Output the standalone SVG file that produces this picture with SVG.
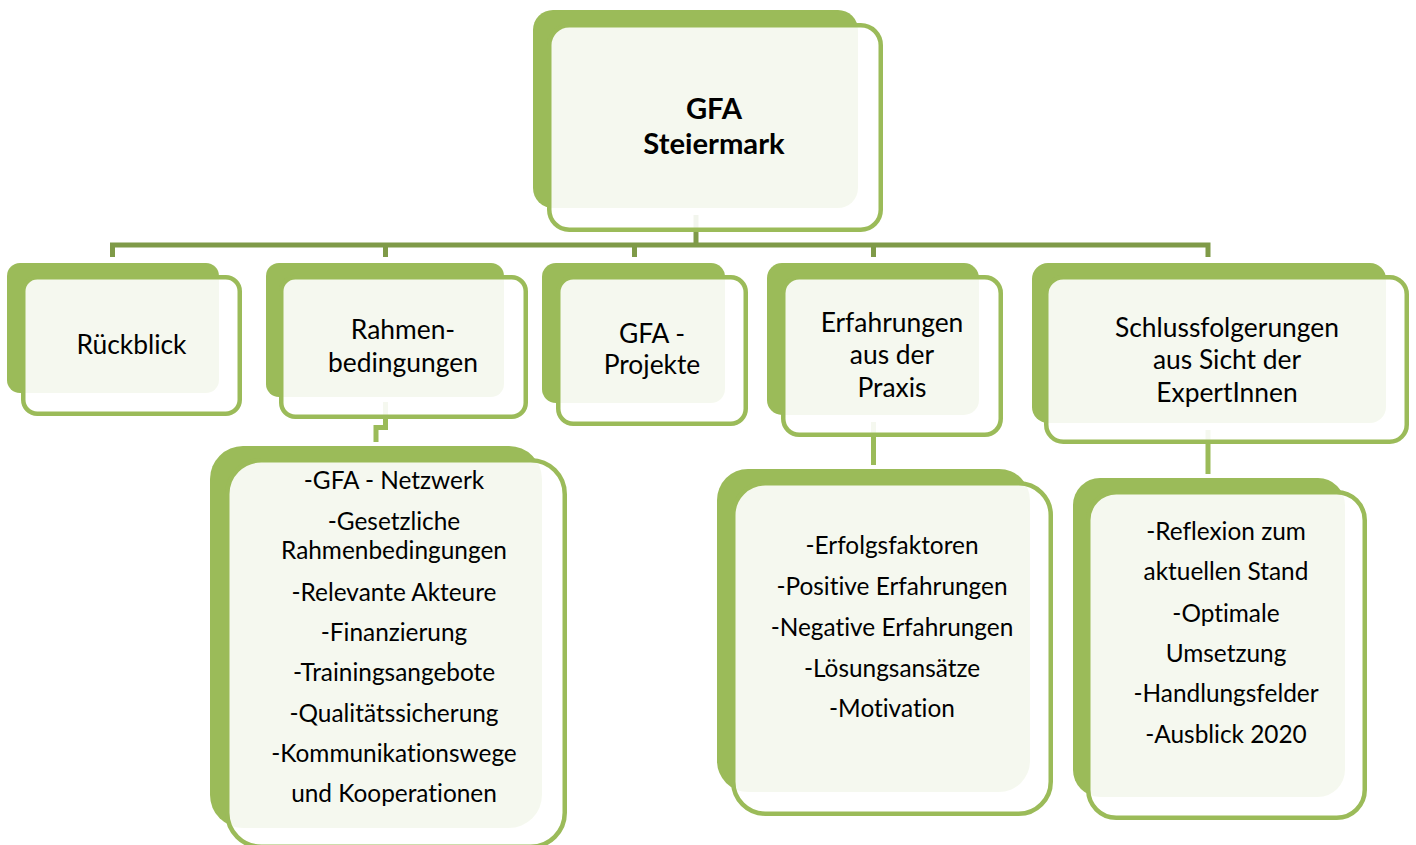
<svg xmlns="http://www.w3.org/2000/svg" width="1416" height="845" viewBox="0 0 1416 845">
<style>
.back{fill:#9BBB59}
.front{fill:#FFFFFF;fill-opacity:0.9;stroke:#9BBB59;stroke-width:4.5}
.bus{fill:none;stroke:#7F9A48;stroke-width:5}
.down{fill:none;stroke:#9BBB59;stroke-width:5}
text{font-family:Lato,"Open Sans","Liberation Sans",sans-serif;fill:#000;text-anchor:middle;font-variant-ligatures:none;font-feature-settings:"liga" 0,"dlig" 0}
.lbl{font-size:26.4px}
.det{font-size:24.4px}
.top{font-size:29.2px;font-weight:bold}
</style>
<rect width="1416" height="845" fill="#FFFFFF"/>
<g id="connectors">
<path class="bus" d="M696 215 V245"/>
<path class="bus" d="M112.5 257 V245 H1208 V257"/>
<path class="bus" d="M385.5 245 V257"/>
<path class="bus" d="M634.5 245 V257"/>
<path class="bus" d="M873.5 245 V257"/>
<path class="down" d="M385.5 402 V427.5 H376 V442"/>
<path class="down" d="M873.5 422 V465"/>
<path class="down" d="M1208 430 V474"/>
</g>
<g id="gfa-steiermark">
<rect class="back" x="533" y="10" width="325" height="198" rx="20"/>
<rect class="front" x="549.25" y="25.25" width="331.5" height="204.5" rx="20"/>
<text class="top" x="714" y="119">GFA</text>
<text class="top" x="714" y="154">Steiermark</text>
</g>
<g id="rueckblick">
<rect class="back" x="7" y="263" width="212" height="130" rx="13"/>
<rect class="front" x="23.25" y="277.25" width="216.5" height="136.5" rx="14"/>
<text class="lbl" x="131.5" y="354">Rückblick</text>
</g>
<g id="rahmenbedingungen">
<rect class="back" x="266" y="263" width="238" height="134" rx="13"/>
<rect class="front" x="281.25" y="277.25" width="244.5" height="139.5" rx="14"/>
<text class="lbl" x="403" y="339">Rahmen-</text>
<text class="lbl" x="403" y="372">bedingungen</text>
</g>
<g id="gfa-projekte">
<rect class="back" x="542" y="263" width="183" height="140" rx="14"/>
<rect class="front" x="558.25" y="277.25" width="187.5" height="146.5" rx="15"/>
<text class="lbl" x="652" y="343">GFA -</text>
<text class="lbl" x="652" y="374">Projekte</text>
</g>
<g id="erfahrungen">
<rect class="back" x="767" y="263" width="212" height="152" rx="15"/>
<rect class="front" x="783.25" y="277.25" width="217.5" height="157.5" rx="16"/>
<text class="lbl" x="892" y="332">Erfahrungen</text>
<text class="lbl" x="892" y="364">aus der</text>
<text class="lbl" x="892" y="397">Praxis</text>
</g>
<g id="schlussfolgerungen">
<rect class="back" x="1032" y="263" width="354" height="160" rx="16"/>
<rect class="front" x="1046.25" y="277.25" width="360.5" height="164.5" rx="17"/>
<text class="lbl" x="1227" y="337">Schlussfolgerungen</text>
<text class="lbl" x="1227" y="369">aus Sicht der</text>
<text class="lbl" x="1227" y="402">ExpertInnen</text>
</g>
<g id="rahmen-details">
<rect class="back" x="210" y="446" width="332" height="382" rx="33"/>
<rect class="front" x="227.25" y="460.25" width="337.5" height="386.5" rx="34"/>
<text class="det" x="394" y="489">-GFA - Netzwerk</text>
<text class="det" x="394" y="530">-Gesetzliche</text>
<text class="det" x="394" y="559">Rahmenbedingungen</text>
<text class="det" x="394" y="601">-Relevante Akteure</text>
<text class="det" x="394" y="641">-Finanzierung</text>
<text class="det" x="394" y="681">-Trainingsangebote</text>
<text class="det" x="394" y="722">-Qualitätssicherung</text>
<text class="det" x="394" y="762">-Kommunikationswege</text>
<text class="det" x="394" y="802">und Kooperationen</text>
</g>
<g id="erfahrungen-details">
<rect class="back" x="717" y="469" width="313" height="323" rx="31"/>
<rect class="front" x="733.25" y="483.25" width="317.5" height="330.5" rx="32"/>
<text class="det" x="892" y="554">-Erfolgsfaktoren</text>
<text class="det" x="892" y="595">-Positive Erfahrungen</text>
<text class="det" x="892" y="636">-Negative Erfahrungen</text>
<text class="det" x="892" y="677">-Lösungsansätze</text>
<text class="det" x="892" y="717">-Motivation</text>
</g>
<g id="schluss-details">
<rect class="back" x="1073" y="478" width="272" height="319" rx="27"/>
<rect class="front" x="1088.25" y="492.25" width="276.5" height="325.5" rx="28"/>
<text class="det" x="1226" y="540">-Reflexion zum</text>
<text class="det" x="1226" y="580">aktuellen Stand</text>
<text class="det" x="1226" y="622">-Optimale</text>
<text class="det" x="1226" y="662">Umsetzung</text>
<text class="det" x="1226" y="702">-Handlungsfelder</text>
<text class="det" x="1226" y="743">-Ausblick 2020</text>
</g>
</svg>
